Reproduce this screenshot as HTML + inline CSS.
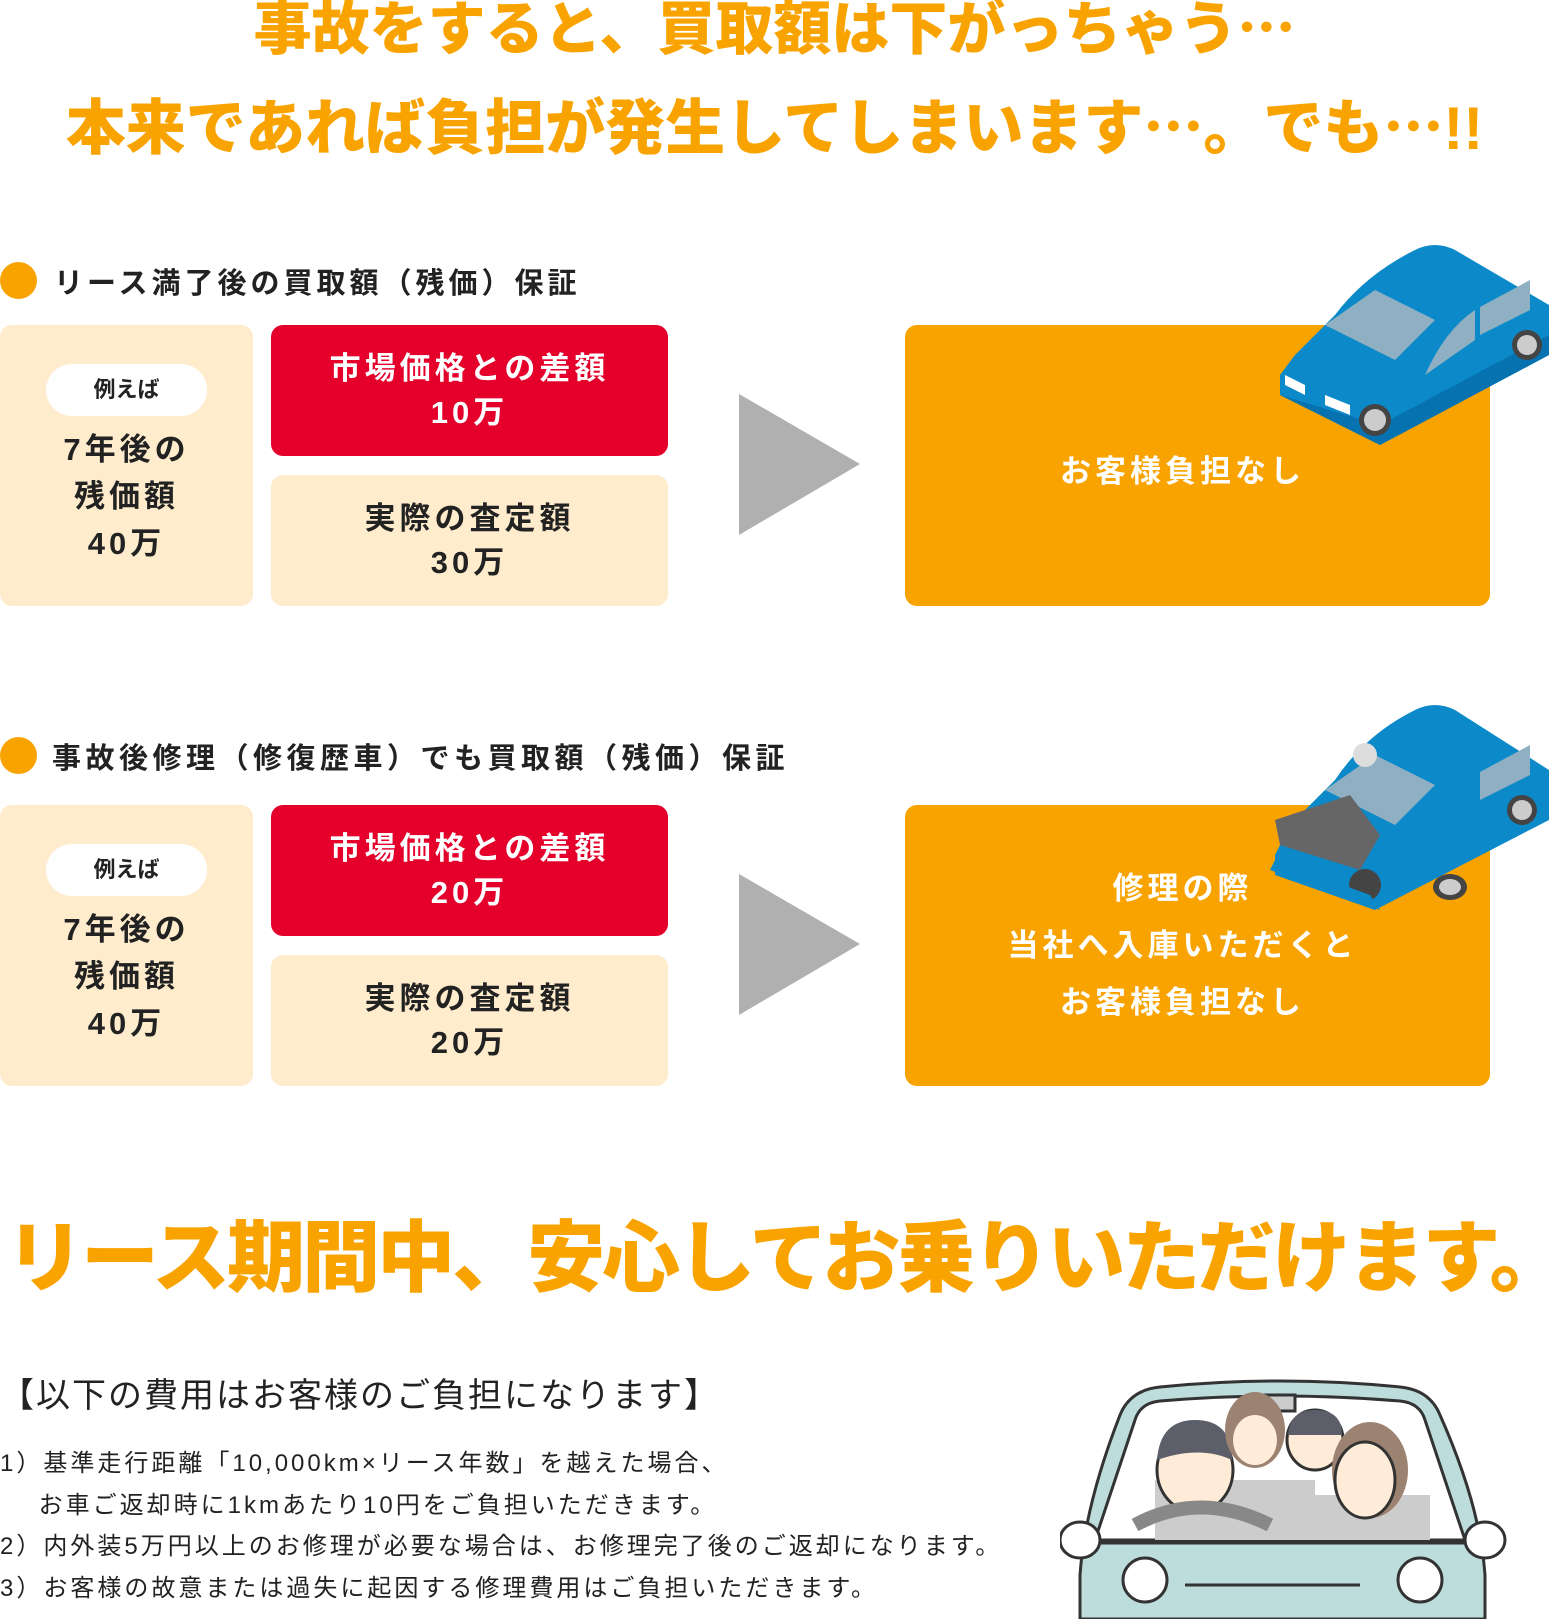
<!DOCTYPE html>
<html><head><meta charset="utf-8"><style>
body{margin:0;width:1549px;height:1619px;background:#fff;position:relative;overflow:hidden;font-family:"Liberation Sans","Noto Sans CJK JP",sans-serif;font-weight:bold;}
.a{position:absolute;}
.t{color:#f9a300;font-weight:900;white-space:nowrap;text-align:center;left:0;width:1549px;}
.box{position:absolute;border-radius:12px;}
.c{display:flex;flex-direction:column;align-items:center;justify-content:center;text-align:center;}
.lbl{font-size:29px;color:#222;letter-spacing:4px;white-space:nowrap}
.bul{position:absolute;left:0;width:37px;height:37px;border-radius:50%;background:#f9a300}
.txt{font-size:31px;letter-spacing:4px;line-height:44px;color:#222;}
.note{font-size:24px;color:#222;font-weight:normal;letter-spacing:3px;white-space:nowrap;position:absolute;left:0}
</style></head><body>
<div class="a t" style="top:0;font-size:58px;line-height:60px;">事故をすると、買取額は下がっちゃう⋯</div>
<div class="a t" style="top:97px;font-size:60px;line-height:64px;">本来であれば負担が発生してしまいます⋯。でも⋯!!</div>

<!-- section 1 -->
<div class="bul" style="top:262px"></div>
<div class="a lbl" style="left:54px;top:260px">リース満了後の買取額（残価）保証</div>
<div class="box c" style="left:0;top:325px;width:253px;height:281px;background:#feeccc">
 <div style="width:161px;height:52px;border-radius:26px;background:#fff;font-size:22px;line-height:52px;color:#222;margin-bottom:10px">例えば</div>
 <div class="txt" style="line-height:47px">7年後の<br>残価額<br>40万</div></div>
<div class="box c txt" style="left:271px;top:325px;width:397px;height:131px;background:#e4002b;color:#fff">市場価格との差額<br>10万</div>
<div class="box c txt" style="left:271px;top:475px;width:397px;height:131px;background:#feeccc">実際の査定額<br>30万</div>
<svg class="a" style="left:739px;top:394px" width="121" height="141"><polygon points="0,0 121,70 0,141" fill="#b0b0b0"/></svg>
<div class="box c txt" style="left:905px;top:325px;width:585px;height:281px;background:#f9a300;color:#fff;padding:12px 30px 0 0;box-sizing:border-box">お客様負担なし</div>
<svg class="a" style="left:1275px;top:235px" width="274" height="215" viewBox="0 0 274 215">
<path d="M5,140 L5,160 L105,210 L274,120 L274,70 L180,15 Q160,5 140,15 Q90,40 60,80 L20,120 Z" fill="#0b89c9"/>
<path d="M50,90 L120,125 L160,85 L100,55 Z" fill="#8fb0c2"/>
<path d="M150,140 L200,105 L200,75 Q170,95 150,140 Z" fill="#8fb0c2"/>
<path d="M205,72 L205,100 L255,75 L255,45 Z" fill="#8fb0c2"/>
<path d="M5,160 L105,210 L274,120 L274,100 L105,190 Z" fill="#0673b0"/>
<circle cx="100" cy="185" r="16" fill="#444"/><circle cx="100" cy="185" r="11" fill="#ccc"/>
<circle cx="252" cy="110" r="15" fill="#444"/><circle cx="252" cy="110" r="10" fill="#ccc"/>
<path d="M10,140 L30,150 L30,160 L10,150Z M50,160 L75,170 L75,180 L50,170Z" fill="#fff"/>
</svg>

<!-- section 2 -->
<div class="bul" style="top:737px"></div>
<div class="a lbl" style="left:52px;top:735px;letter-spacing:4.5px">事故後修理（修復歴車）でも買取額（残価）保証</div>
<div class="box c" style="left:0;top:805px;width:253px;height:281px;background:#feeccc">
 <div style="width:161px;height:52px;border-radius:26px;background:#fff;font-size:22px;line-height:52px;color:#222;margin-bottom:10px">例えば</div>
 <div class="txt" style="line-height:47px">7年後の<br>残価額<br>40万</div></div>
<div class="box c txt" style="left:271px;top:805px;width:397px;height:131px;background:#e4002b;color:#fff">市場価格との差額<br>20万</div>
<div class="box c txt" style="left:271px;top:955px;width:397px;height:131px;background:#feeccc">実際の査定額<br>20万</div>
<svg class="a" style="left:739px;top:874px" width="121" height="141"><polygon points="0,0 121,70 0,141" fill="#b0b0b0"/></svg>
<div class="box c txt" style="left:905px;top:805px;width:585px;height:281px;background:#f9a300;color:#fff;line-height:57px;padding-right:30px;box-sizing:border-box">修理の際<br>当社へ入庫いただくと<br>お客様負担なし</div>
<svg class="a" style="left:1270px;top:695px" width="279" height="230" viewBox="0 0 279 230">
<path d="M5,160 L5,180 L105,215 L279,125 L279,75 L185,15 Q165,5 145,15 Q95,40 65,85 L20,130 Z" fill="#0b89c9"/>
<path d="M55,95 L125,130 L165,90 L105,60 Z" fill="#8fb0c2"/>
<path d="M210,77 L210,105 L260,80 L260,50 Z" fill="#8fb0c2"/>
<path d="M5,125 L80,100 L110,140 L90,175 L10,150 Z" fill="#666"/>
<circle cx="95" cy="190" r="16" fill="#444"/><circle cx="252" cy="115" r="15" fill="#444"/><circle cx="252" cy="115" r="10" fill="#ccc"/>
<ellipse cx="180" cy="192" rx="17" ry="13" fill="#444"/><ellipse cx="180" cy="192" rx="11" ry="8" fill="#ccc"/>
<path d="M0,175 L110,215 L100,200 L5,165Z" fill="#0b89c9"/>
<circle cx="95" cy="60" r="12" fill="#ddd"/>
</svg>

<div class="a t" style="top:1212px;font-size:78px;line-height:92px;left:6px;width:auto;text-align:left;letter-spacing:-3px">リース期間中、安心してお乗りいただけます。</div>

<div class="note" style="top:1374px;font-size:34px;letter-spacing:2px;line-height:44px">【以下の費用はお客様のご負担になります】</div>
<div class="note" style="top:1443px;line-height:41.5px">1）基準走行距離「10,000km×リース年数」を越えた場合、<br>&nbsp;&nbsp;&nbsp;&nbsp;お車ご返却時に1kmあたり10円をご負担いただきます。<br>2）内外装5万円以上のお修理が必要な場合は、お修理完了後のご返却になります。<br>3）お客様の故意または過失に起因する修理費用はご負担いただきます。</div>

<svg class="a" style="left:1060px;top:1375px" width="450" height="244" viewBox="0 0 450 244">
<path d="M20,244 L20,200 Q25,130 60,40 Q70,15 100,12 Q220,0 340,12 Q370,15 380,40 Q420,130 425,200 L425,244Z" fill="#bddcdc" stroke="#333" stroke-width="3"/>
<path d="M35,165 L75,45 Q80,28 100,26 Q220,16 340,26 Q360,28 365,45 L405,165Z" fill="#fff" stroke="#333" stroke-width="3"/>
<rect x="190" y="20" width="45" height="16" fill="#ccc" stroke="#333" stroke-width="3"/>
<rect x="95" y="105" width="160" height="60" fill="#ccc"/><rect x="240" y="120" width="130" height="45" fill="#ccc"/>
<ellipse cx="135" cy="95" rx="38" ry="42" fill="#feecd9" stroke="#333" stroke-width="3"/>
<path d="M97,85 Q100,45 135,45 Q172,45 172,85 Q140,70 97,85Z" fill="#5c5e6a"/>
<ellipse cx="195" cy="55" rx="30" ry="38" fill="#9c8270"/><ellipse cx="195" cy="65" rx="22" ry="25" fill="#feecd9"/>
<ellipse cx="255" cy="65" rx="28" ry="30" fill="#feecd9" stroke="#333" stroke-width="3"/>
<path d="M228,60 Q230,35 255,35 Q282,35 282,60Z" fill="#5c5e6a"/>
<ellipse cx="310" cy="95" rx="38" ry="48" fill="#9c8270"/><ellipse cx="305" cy="105" rx="30" ry="38" fill="#feecd9" stroke="#333" stroke-width="3"/>
<path d="M75,150 Q140,115 210,150" fill="none" stroke="#888" stroke-width="14"/>
<line x1="30" y1="168" x2="415" y2="168" stroke="#333" stroke-width="3"/>
<circle cx="85" cy="205" r="22" fill="#fff" stroke="#333" stroke-width="3"/><circle cx="360" cy="205" r="22" fill="#fff" stroke="#333" stroke-width="3"/>
<line x1="125" y1="210" x2="300" y2="210" stroke="#333" stroke-width="3"/>
<ellipse cx="20" cy="165" rx="20" ry="18" fill="#fff" stroke="#333" stroke-width="3"/><ellipse cx="425" cy="165" rx="20" ry="18" fill="#fff" stroke="#333" stroke-width="3"/>
</svg>
</body></html>
